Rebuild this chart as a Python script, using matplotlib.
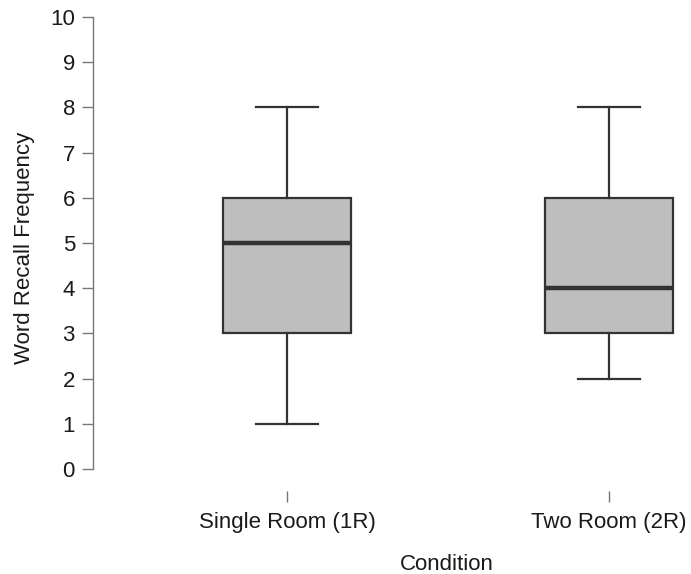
import matplotlib
matplotlib.use("Agg")
import matplotlib.pyplot as plt

plt.rcParams['font.family'] = ['Liberation Sans', 'DejaVu Sans']

conditions = ["Single Room (1R)", "Two Room (2R)"]
whisker_low = [1, 2]
q1 = [3, 3]
median = [5, 4]
q3 = [6, 6]
whisker_high = [8, 8]
y_ticks = list(range(0, 11))

stats = []
for i, name in enumerate(conditions):
    stats.append({"label": name, "whislo": whisker_low[i], "q1": q1[i],
                  "med": median[i], "q3": q3[i], "whishi": whisker_high[i],
                  "fliers": []})

fig = plt.figure(figsize=(6.91, 5.74), dpi=100)
ax = fig.add_axes([93 / 691, 105 / 574, 598 / 691, 452 / 574])

line_col = "#333333"
ax.bxp(stats, positions=[1, 2], widths=0.3975, capwidths=0.19,
       patch_artist=True, showfliers=False,
       boxprops=dict(facecolor="#bebebe", edgecolor=line_col, linewidth=1.6),
       whiskerprops=dict(color=line_col, linewidth=1.6, linestyle="-"),
       capprops=dict(color=line_col, linewidth=1.6),
       medianprops=dict(color=line_col, linewidth=3.2))

ax.set_xlim(0.3975, 2.2547)
ax.set_ylim(0, 10)
ax.set_yticks(y_ticks)
ax.set_xticks([1, 2])
ax.set_xticklabels(conditions)

for s in ["top", "right", "bottom"]:
    ax.spines[s].set_visible(False)
ax.spines["left"].set_color("#777777")
ax.spines["left"].set_linewidth(1.0)
ax.spines["bottom"].set_position(("outward", 16))

ax.tick_params(axis="y", length=8, width=1.0, color="#777777", labelsize=16,
               labelcolor="#1a1a1a", pad=5)
ax.tick_params(axis="x", length=8, width=1.0, color="#777777", labelsize=16,
               labelcolor="#1a1a1a", pad=7)

ax.set_ylabel("Word Recall Frequency", fontsize=16, color="#1a1a1a")
ax.yaxis.set_label_coords((25 - 93) / 598, 0.49)
ax.yaxis.label.set_va("center")

ax.set_xlabel("Condition", fontsize=16, color="#1a1a1a")
ax.xaxis.set_label_coords((447 - 93) / 598, (10 - 105) / 452)
ax.xaxis.label.set_va("center")

fig.savefig("out.png", dpi=100)
